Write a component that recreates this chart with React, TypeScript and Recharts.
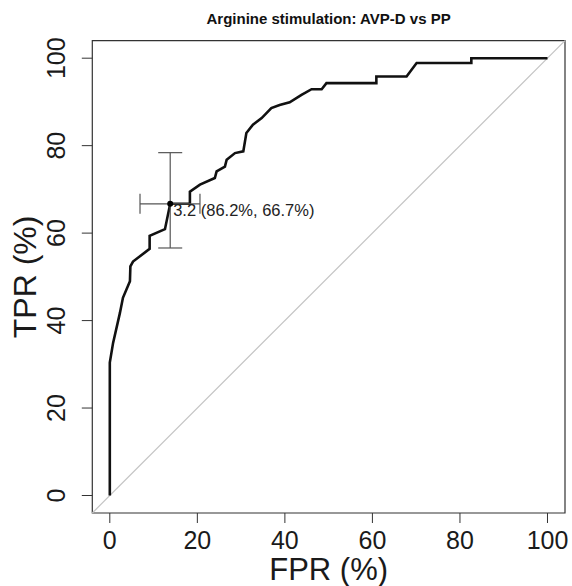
import {
  ComposedChart,
  Line,
  Scatter,
  ErrorBar,
  XAxis,
  YAxis,
  ReferenceLine,
  ReferenceArea,
  LabelList,
} from "recharts";

// ROC curve (percent)
const fpr = [0, 0, 0.75, 2.3, 3.0, 4.6, 4.7, 5.3, 9.1, 9.1, 12.6, 13.8, 18.3, 18.3, 20.6, 24.0, 24.4, 26.3, 26.7, 28.6, 30.5, 31.2, 32.7, 34.7, 36.9, 38.8, 41.1, 43.8, 46.1, 48.4, 49.5, 60.9, 60.9, 67.8, 70.1, 82.6, 82.6, 100];
const tpr = [0, 30.4, 34.9, 41.7, 45.2, 49.0, 52.4, 53.5, 56.4, 59.4, 60.9, 66.7, 66.7, 69.5, 71.1, 72.6, 74.1, 75.2, 76.8, 78.3, 78.7, 82.9, 84.8, 86.3, 88.6, 89.3, 89.9, 91.6, 92.9, 92.9, 94.3, 94.3, 95.8, 95.8, 98.9, 98.9, 100, 100];

// best threshold and its confidence intervals
const best = { threshold: "3.2", spec: "86.2%", sens: "66.7%", fpr: 13.8, tpr: 66.7 };
const fprCI = [6.9, 20.6];
const tprCI = [56.6, 78.4];

const ticks = [0, 20, 40, 60, 80, 100];
const title = "Arginine stimulation: AVP-D vs PP";

const FONT = "'Liberation Sans', Arial, Helvetica, sans-serif";

const curve = fpr.map((x, i) => ({ fpr: x, tpr: tpr[i] }));
const bestPoint = [
  {
    fpr: best.fpr,
    tpr: best.tpr,
    ex: [best.fpr - fprCI[0], fprCI[1] - best.fpr],
    ey: [best.tpr - tprCI[0], tprCI[1] - best.tpr],
    label: `${best.threshold} (${best.spec}, ${best.sens})`,
  },
];

const XTick = ({ x, y, payload }: any) => (
  <text x={x} y={y + 24} textAnchor="middle" fontSize={25} fill="#1a1a1a" fontFamily={FONT}>
    {payload.value}
  </text>
);

const YTick = ({ x, y, payload }: any) => (
  <text
    transform={`translate(${x - 14.5}, ${y}) rotate(-90)`}
    textAnchor="middle"
    fontSize={25}
    fill="#1a1a1a"
    fontFamily={FONT}
  >
    {payload.value}
  </text>
);

const XLabel = ({ viewBox }: any) => (
  <text x={viewBox.x + viewBox.width / 2} y={viewBox.y + 67} textAnchor="middle" fontSize={31} fill="#1a1a1a" fontFamily={FONT}>
    FPR (%)
  </text>
);

const YLabel = ({ viewBox }: any) => (
  <text
    transform={`translate(36, ${viewBox.y + viewBox.height / 2}) rotate(-90)`}
    textAnchor="middle"
    fontSize={32}
    fill="#1a1a1a"
    fontFamily={FONT}
  >
    TPR (%)
  </text>
);

const PointLabel = ({ x, y, value }: any) => (
  <text x={x + 7.5} y={y + 16.5} fontSize={16.5} fill="#222" fontFamily={FONT}>
    {value}
  </text>
);

export default function App() {
  return (
    <div style={{ position: "absolute", left: 0, top: 0, background: "#fff" }}>
      <ComposedChart width={572} height={586} margin={{ top: 40.7, right: 7, bottom: 0, left: 0 }}>
        <text x={328.6} y={23.5} textAnchor="middle" fontSize={15} fontWeight="bold" fill="#111" fontFamily={FONT}>
          {title}
        </text>
        <XAxis
          type="number"
          dataKey="fpr"
          domain={[-4, 104]}
          ticks={ticks}
          allowDataOverflow
          height={73}
          axisLine={false}
          tickLine={{ stroke: "#333" }}
          tickSize={10}
          tick={<XTick />}
          label={<XLabel />}
        />
        <YAxis
          type="number"
          dataKey="tpr"
          domain={[-4, 104]}
          ticks={ticks}
          allowDataOverflow
          width={92.3}
          axisLine={false}
          tickLine={{ stroke: "#333" }}
          tickSize={10.5}
          tick={<YTick />}
          label={<YLabel />}
        />
        <ReferenceLine
          segment={[{ x: -4, y: -4 }, { x: 104, y: 104 }]}
          stroke="#c4c4c4"
          strokeWidth={1.2}
          ifOverflow="visible"
        />
        <Line
          data={curve}
          dataKey="tpr"
          type="linear"
          stroke="#111"
          strokeWidth={2.6}
          dot={false}
          activeDot={false}
          isAnimationActive={false}
        />
        <Scatter
          data={bestPoint}
          dataKey="tpr"
          fill="#000"
          shape={(p: any) => <circle cx={p.cx} cy={p.cy} r={3} fill="#000" />}
          isAnimationActive={false}
        >
          <ErrorBar dataKey="ex" direction="x" width={10} stroke="#555" strokeWidth={1.2} />
          <ErrorBar dataKey="ey" direction="y" width={12} stroke="#555" strokeWidth={1.2} />
          <LabelList dataKey="label" content={<PointLabel />} />
        </Scatter>
        <ReferenceArea x1={-4} x2={104} y1={-4} y2={104} fill="none" stroke="#333" strokeWidth={1.2} ifOverflow="visible" />
      </ComposedChart>
    </div>
  );
}
